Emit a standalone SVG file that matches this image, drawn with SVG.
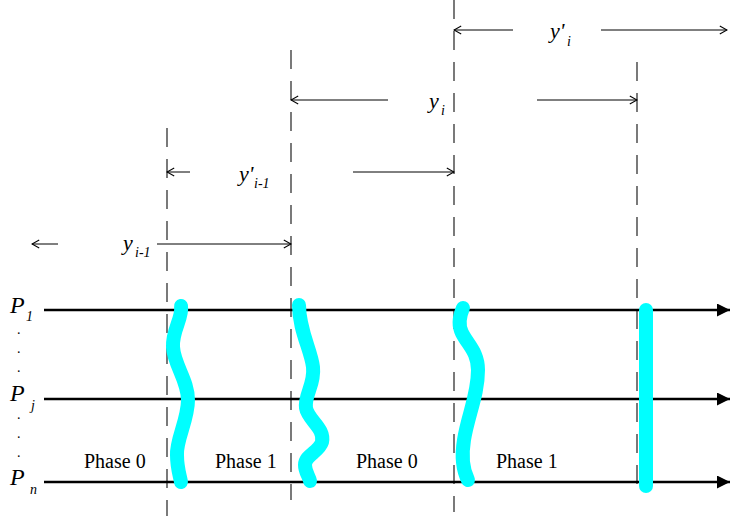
<svg xmlns="http://www.w3.org/2000/svg" width="730" height="516" viewBox="0 0 730 516">
<defs>
<style>
.dash{stroke:#222;stroke-width:1.2;stroke-dasharray:19 12;fill:none}
.dim{stroke:#000;stroke-width:1;fill:none}
.proc{stroke:#000;stroke-width:2.5;fill:none}
.wave{stroke:#00FFFF;stroke-width:14;stroke-linecap:round;stroke-linejoin:round;fill:none}
.it{font-family:"Liberation Serif",serif;font-style:italic;fill:#000}
.ph{font-family:"Liberation Serif",serif;font-size:20px;fill:#000}
</style>
<marker id="open" viewBox="0 0 10 10" refX="9" refY="5" markerWidth="9" markerHeight="11" markerUnits="userSpaceOnUse" orient="auto">
<path d="M1,0.5 L9,5 L1,9.5" fill="none" stroke="#000" stroke-width="1.2"/>
</marker>
<marker id="solid" viewBox="0 0 12 12" refX="12" refY="6" markerWidth="13" markerHeight="13" markerUnits="userSpaceOnUse" orient="auto">
<path d="M0,0 L12,6 L0,12 Z" fill="#000"/>
</marker>
</defs>
<g id="guides">
<line class="dash" x1="167" y1="128" x2="167" y2="516"/>
<line class="dash" x1="291" y1="50" x2="291" y2="500"/>
<line class="dash" x1="454" y1="0" x2="454" y2="512"/>
<line class="dash" x1="637" y1="62" x2="637" y2="496"/>
</g>
<g id="connectors">
<line class="proc" x1="44" y1="310" x2="730" y2="310" marker-end="url(#solid)"/>
<line class="proc" x1="44" y1="399" x2="730" y2="399" marker-end="url(#solid)"/>
<line class="proc" x1="44" y1="482" x2="730" y2="482" marker-end="url(#solid)"/>
<line class="dim" x1="513" y1="30" x2="454" y2="30" marker-end="url(#open)"/>
<line class="dim" x1="601" y1="30" x2="727" y2="30" marker-end="url(#open)"/>
<line class="dim" x1="388" y1="100" x2="291" y2="100" marker-end="url(#open)"/>
<line class="dim" x1="537" y1="100" x2="637" y2="100" marker-end="url(#open)"/>
<line class="dim" x1="190" y1="172" x2="167" y2="172" marker-end="url(#open)"/>
<line class="dim" x1="353" y1="172" x2="454" y2="172" marker-end="url(#open)"/>
<line class="dim" x1="58" y1="244" x2="32" y2="244" marker-end="url(#open)"/>
<line class="dim" x1="157" y1="244" x2="291" y2="244" marker-end="url(#open)"/>
</g>
<g id="barrier1"><path class="wave" d="M181,306 C183,318 172,330 173,347 C174,365 188,380 188,400 C188,420 176,440 177,455 C177,468 180,476 181,482"/></g>
<g id="barrier2"><path class="wave" d="M299,305 C299,330 311,350 313,367 C315,385 304,395 306,408 C308,420 325,428 322,442 C319,452 305,455 305,465 C305,472 309,476 310,481"/></g>
<g id="barrier3"><path class="wave" d="M463,308 C460,315 458,325 462,333 C468,345 478,352 478,370 C478,395 468,415 464,440 C461,458 464,472 468,480"/></g>
<g id="barrier4"><line class="wave" x1="646" y1="310" x2="646" y2="486"/></g>
<g id="labels">
<text class="it" x="10" y="313" font-size="24">P</text><text class="it" x="26" y="321" font-size="14">1</text>
<text class="it" x="10" y="401" font-size="24">P</text><text class="it" x="31" y="410" font-size="14">j</text>
<text class="it" x="10" y="485" font-size="24">P</text><text class="it" x="30" y="494" font-size="14">n</text>
<g font-family="Liberation Serif,serif" font-size="14" fill="#000">
<text x="17" y="334">.</text><text x="17" y="353">.</text><text x="17" y="372">.</text>
<text x="17" y="419">.</text><text x="17" y="438">.</text><text x="17" y="457">.</text>
</g>
<text class="ph" x="84" y="468">Phase 0</text>
<text class="ph" x="215" y="468">Phase 1</text>
<text class="ph" x="356" y="468">Phase 0</text>
<text class="ph" x="496" y="468">Phase 1</text>
<text class="it" x="550" y="38" font-size="22">y'</text><text class="it" x="567" y="46" font-size="14">i</text>
<text class="it" x="429" y="108" font-size="22">y</text><text class="it" x="441" y="115" font-size="14">i</text>
<text class="it" x="239" y="181" font-size="22">y'</text><text class="it" x="254" y="188" font-size="14">i-1</text>
<text class="it" x="123" y="250" font-size="22">y</text><text class="it" x="135" y="257" font-size="14">i-1</text>
</g>
</svg>
